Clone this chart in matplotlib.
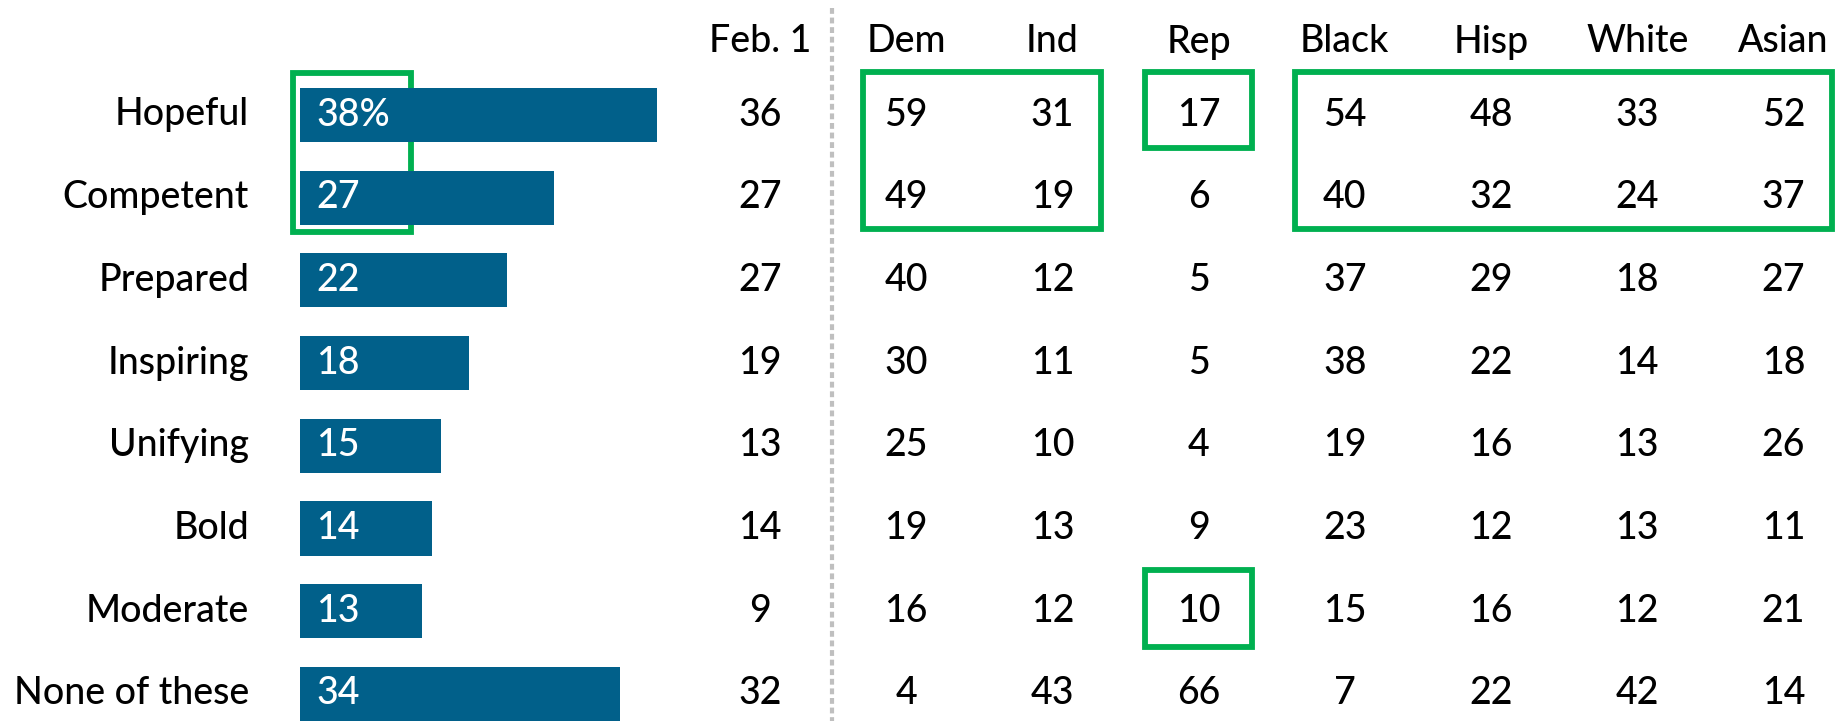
import matplotlib.pyplot as plt
from matplotlib.patches import Rectangle

plt.rcParams['font.family'] = ['Lato', 'DejaVu Sans']
plt.rcParams['font.weight'] = 'medium'

# данные
traits = ['Hopeful', 'Competent', 'Prepared', 'Inspiring', 'Unifying', 'Bold', 'Moderate', 'None of these']
total = [38, 27, 22, 18, 15, 14, 13, 34]
columns = ['Feb. 1', 'Dem', 'Ind', 'Rep', 'Black', 'Hisp', 'White', 'Asian']
feb1 = [36, 27, 27, 19, 13, 14, 9, 32]
dem = [59, 49, 40, 30, 25, 19, 16, 4]
ind = [31, 19, 12, 11, 10, 13, 12, 43]
rep = [17, 6, 5, 5, 4, 9, 10, 66]
black = [54, 40, 37, 38, 19, 23, 15, 7]
hisp = [48, 32, 29, 22, 16, 12, 16, 22]
white = [33, 24, 18, 14, 13, 13, 12, 42]
asian = [52, 37, 27, 18, 26, 11, 21, 14]
table = [feb1, dem, ind, rep, black, hisp, white, asian]

W, H = 1847, 721
bar_color = '#01608A'
green = '#00B050'
fs = 27

# разметка в пикселях: строки и колонки
row0, row_step = 115, 82.7
col0, col_step = 760, 146.2
ylim = ((H - row0) / row_step, -row0 / row_step)


def cx(px):
    return (px - col0) / col_step


def ry(px):
    return (px - row0) / row_step


fig = plt.figure(figsize=(W / 100, H / 100), dpi=100)

# таблица (колонки и подписи)
ax = fig.add_axes([0, 0, 1, 1])
ax.set_xlim(cx(0), cx(W))
ax.set_ylim(*ylim)
ax.axis('off')

# бары
axb = fig.add_axes([300 / W, 0, 940 / W, 1])
axb.set_xlim(0, 100)
axb.set_ylim(*ylim)
axb.axis('off')
axb.barh(range(len(traits)), total, height=0.655, color=bar_color)
for i, v in enumerate(total):
    label = f'{v}%' if i == 0 else str(v)
    axb.text(1.7, i, label, color='white', fontsize=fs, va='center', ha='left')

for i, t in enumerate(traits):
    ax.text(cx(249), i, t, fontsize=fs, ha='right', va='center')

for j, name in enumerate(columns):
    ax.text(j, ry(42), name, fontsize=fs, ha='center', va='center')
    for i, v in enumerate(table[j]):
        ax.text(j, i, str(v), fontsize=fs, ha='center', va='center')

# пунктирная вертикальная линия
ax.plot([cx(832), cx(832)], [ry(8), ry(H)], color='#BFBFBF', lw=3,
        linestyle=(0, (1.4, 0.9)))

# зеленые рамки
boxes = [(293, 411, 73, 232), (863, 1101, 72, 229), (1145, 1252, 72, 148),
         (1295, 1832, 72, 229), (1145, 1252, 570, 647)]
for x0, x1, y0, y1 in boxes:
    ax.add_patch(Rectangle((cx(x0), ry(y0)), cx(x1) - cx(x0), ry(y1) - ry(y0),
                           fill=False, edgecolor=green, lw=4.2))

fig.savefig('out.png', dpi=100)
